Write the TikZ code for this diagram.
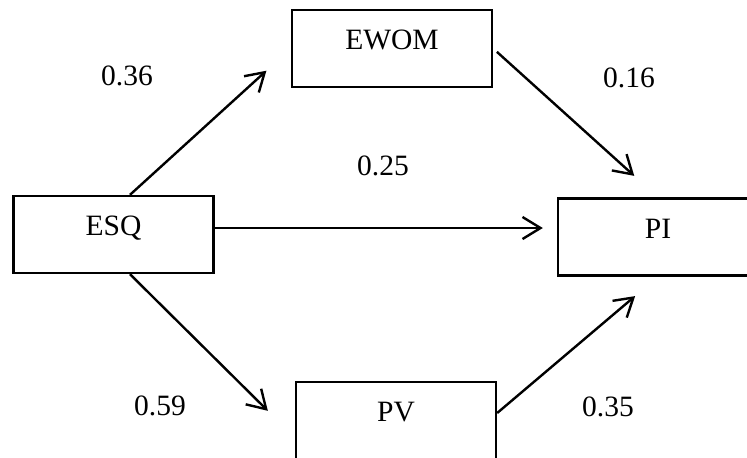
\documentclass[tikz,border=0pt]{standalone}
\usepackage{fontspec}
\setmainfont{Liberation Serif}
\usetikzlibrary{arrows.meta}

\begin{document}
\begin{tikzpicture}[x=0.02cm, y=-0.02cm, font=\fontsize{16.8}{20}\selectfont]
%% the picture is laid out in pixel units of the original (y grows downwards)
%% text in the boxes sits above the middle, as in the word-processor drawing
\tikzstyle{arc}=[-{Straight Barb[length=0.36cm,width=0.44cm]},line width=0.048cm]
\tikzstyle{varbox}=[draw,line width=0.048cm,minimum width=4cm,inner sep=0pt,text height=0.79cm,text depth=0.75cm]
\tikzstyle{coef}=[inner sep=0pt,text height=0.68em,text depth=0pt]
\clip (0,0) rectangle (747,457);
%% TikZ-figure elements %%
\node[varbox] at (113.5,234.5) (ESQ) {ESQ};
\node[varbox] at (392,48.5) (EWOM) {EWOM};
\node[varbox] at (658,237) (PI) {PI};
\node[varbox] at (396,420.5) (PV) {PV};
%% arcs
\coordinate (ESQ_out) at ([yshift=0.13cm]ESQ.east);
\draw[arc,shorten >=0.66cm] ([xshift=0.33cm]ESQ.north) -- (EWOM.west);
\draw[arc,shorten >=0.28cm] (ESQ_out) -- (ESQ_out -| PI.west);
\draw[arc] ([xshift=0.33cm]ESQ.south) -- ([xshift=-0.54cm,yshift=-0.6cm]PV.north west);
\draw[arc,shorten <=0.1cm,shorten >=0.64cm] (EWOM.east) -- (PI.north);
\draw[arc,shorten >=0.6cm] ([yshift=0.15cm]PV.east) -- (PI.south);
%% path coefficients
\node[coef] at (127,80) (C_ESQ_EWOM) {0.36};
\node[coef] at (629,82) (C_EWOM_PI) {0.16};
\node[coef] at (383,170) (C_ESQ_PI) {0.25};
\node[coef] at (160,410) (C_ESQ_PV) {0.59};
\node[coef] at (608,411) (C_PV_PI) {0.35};
\end{tikzpicture}
\end{document}
